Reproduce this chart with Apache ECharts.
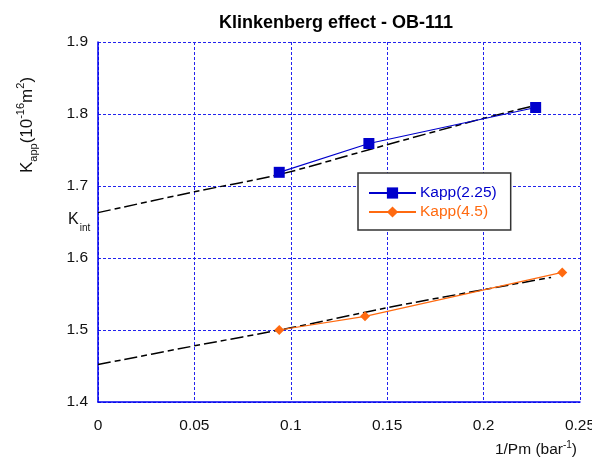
<!DOCTYPE html>
<html><head><meta charset="utf-8">
<script src="https://cdn.jsdelivr.net/npm/echarts@6/dist/echarts.min.js"></script>
<style>html,body{margin:0;padding:0;background:#fff}#c{width:592px;height:461px}</style>
</head><body><div id="c"></div>
<script>
const xTicks = [0, 0.05, 0.1, 0.15, 0.2, 0.25];
const yTicks = [1.4, 1.5, 1.6, 1.7, 1.8, 1.9];
const kapp225X = [0.094, 0.1405, 0.227];
const kapp225Y = [1.719, 1.759, 1.809];
const kapp45X = [0.094, 0.1385, 0.2408];
const kapp45Y = [1.500, 1.519, 1.580];
const fitUpperX = [0, 0.05, 0.094, 0.14, 0.2, 0.227];
const fitUpperY = [1.663, 1.692, 1.716, 1.750, 1.794, 1.812];
const fitLowerX = [0, 0.05, 0.1, 0.15, 0.2, 0.235];
const fitLowerY = [1.452, 1.478, 1.503, 1.531, 1.556, 1.573];

const zip = (a, b) => a.map((v, i) => [v, b[i]]);
const font = 'Liberation Sans, Arial, sans-serif';
const BLUE = '#0000cc', ORANGE = '#ff6a10';
const chart = echarts.init(document.getElementById('c'));
chart.setOption({
  animation: false,
  title: {
    text: 'Klinkenberg effect - OB-111', left: 331, top: 9, textAlign: 'center',
    textStyle: { fontFamily: font, fontSize: 18, fontWeight: 'bold', color: '#000' }
  },
  grid: { left: 98, right: 12, top: 42, bottom: 59, outerBoundsMode: 'none', containLabel: false },
  legend: {
    left: 358, top: 173, orient: 'vertical', itemGap: 3, itemWidth: 47, itemHeight: 14,
    padding: [12, 14, 10, 10],
    borderColor: '#333', borderWidth: 1.5, backgroundColor: '#fff',
    data: [
      { name: 'Kapp(2.25)', textStyle: { color: BLUE } },
      { name: 'Kapp(4.5)', textStyle: { color: ORANGE } }
    ],
    textStyle: { fontFamily: font, fontSize: 15.5, padding: [0, 0, 0, -1] }
  },
  xAxis: {
    type: 'value', min: xTicks[0], max: xTicks[xTicks.length - 1], interval: 0.05,
    axisLine: { lineStyle: { color: '#0000ee', width: 1.5 } },
    axisTick: { show: false },
    axisLabel: { fontFamily: font, fontSize: 15.5, color: '#111', margin: 16,
      formatter: v => String(+v.toFixed(2)) },
    splitLine: { lineStyle: { color: '#2222ee', type: [3, 2], width: 1 } },
    name: '{a|1/Pm (bar}{s|-1}{a|)}', nameLocation: 'end', nameGap: 0,
    nameTextStyle: { align: 'right', verticalAlign: 'top', padding: [38, 3, 0, 0],
      rich: { a: { fontFamily: font, fontSize: 15.5, color: '#111' },
              s: { fontFamily: font, fontSize: 10, color: '#111', verticalAlign: 'top', padding: [0, 0, 9, 0] } } }
  },
  yAxis: {
    type: 'value', min: yTicks[0], max: yTicks[yTicks.length - 1], interval: 0.1,
    axisLine: { show: true, lineStyle: { color: '#0000ee', width: 1.5 } },
    axisTick: { show: false },
    axisLabel: { fontFamily: font, fontSize: 15.5, color: '#111', margin: 10,
      formatter: v => v.toFixed(1) },
    splitLine: { lineStyle: { color: '#2222ee', type: [3, 2], width: 1 } }
  },
  graphic: [{
    type: 'text', x: 27, y: 125, rotation: Math.PI / 2,
    style: { text: '{a|K}{sub|app}{a|(10}{sup|-16}{a|m}{sup|2}{a|)}', align: 'center', verticalAlign: 'middle',
      rich: { a: { fontFamily: font, fontSize: 17, fill: '#111' },
              sub: { fontFamily: font, fontSize: 11, fill: '#111', padding: [14, 0, 0, 0] },
              sup: { fontFamily: font, fontSize: 11, fill: '#111', padding: [0, 0, 12, 0] } } }
  }, {
    type: 'text', left: 68, top: 212,
    style: { text: '{a|K}{s|int}', rich: {
      a: { fontFamily: font, fontSize: 16, fill: '#111' },
      s: { fontFamily: font, fontSize: 10, fill: '#111', padding: [16, 0, 0, 1] } } }
  }],
  series: [
    { name: 'fitU', type: 'line', data: zip(fitUpperX, fitUpperY), smooth: 0.3, symbol: 'none',
      lineStyle: { color: '#000', width: 1.5, type: [13, 4, 6, 4] }, z: 3 },
    { name: 'fitL', type: 'line', data: zip(fitLowerX, fitLowerY), smooth: 0.3, symbol: 'none',
      lineStyle: { color: '#000', width: 1.5, type: [13, 4, 6, 4] }, z: 3 },
    { name: 'Kapp(2.25)', type: 'line', data: zip(kapp225X, kapp225Y), symbol: 'rect', symbolSize: 11,
      itemStyle: { color: BLUE }, lineStyle: { color: BLUE, width: 1.2 }, z: 4 },
    { name: 'Kapp(4.5)', type: 'line', data: zip(kapp45X, kapp45Y), symbol: 'diamond', symbolSize: 10,
      itemStyle: { color: ORANGE }, lineStyle: { color: ORANGE, width: 1.2 }, z: 4 }
  ]
});
</script></body></html>
